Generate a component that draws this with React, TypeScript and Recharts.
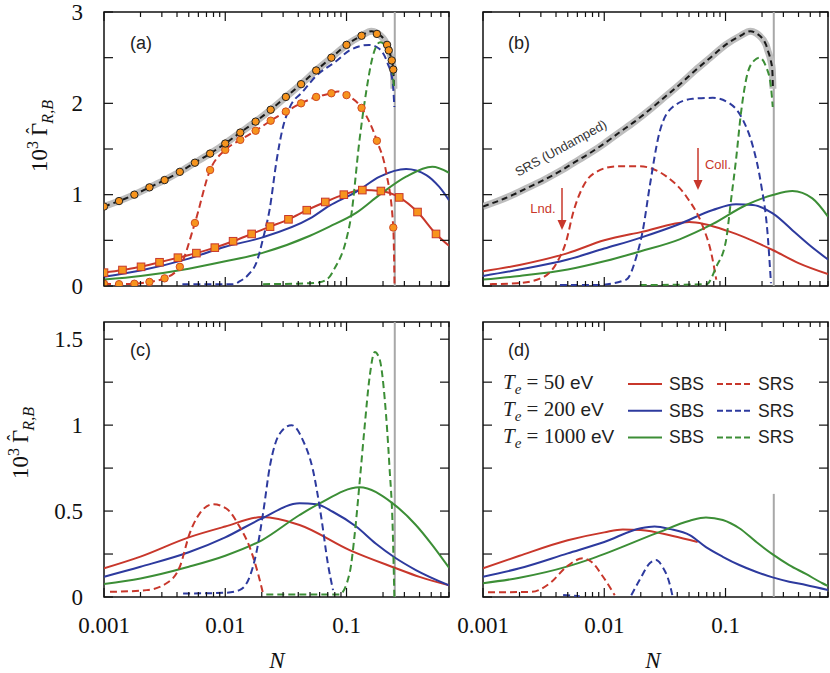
import React from 'react';
import { LineChart, Line, XAxis, YAxis, ReferenceLine, ReferenceArea } from 'recharts';

type Pt = [number, number];

// axis ticks
const xTicks = [
  0.001, 0.002, 0.003, 0.004, 0.005, 0.006, 0.007, 0.008, 0.009,
  0.01, 0.02, 0.03, 0.04, 0.05, 0.06, 0.07, 0.08, 0.09,
  0.1, 0.2, 0.3, 0.4, 0.5, 0.6, 0.7,
];
const xLabels = [0.001, 0.01, 0.1];
const yTicksTop = [0, 0.5, 1, 1.5, 2, 2.5, 3];
const yLabelsTop = [0, 1, 2, 3];
const yTicksBottom = [0, 0.25, 0.5, 0.75, 1, 1.25, 1.5];
const yLabelsBottom = [0, 0.5, 1, 1.5];
const nLimit = 0.25;

// undamped SRS, panels (a) and (b)
const undamped: Pt[] = [
  [0.001, 0.87], [0.00133, 0.93], [0.00178, 1.0], [0.00237, 1.08], [0.00316, 1.16],
  [0.00422, 1.25], [0.00562, 1.35], [0.0075, 1.45], [0.01, 1.56], [0.0133, 1.68],
  [0.0178, 1.8], [0.0237, 1.93], [0.0316, 2.07], [0.0422, 2.21], [0.0562, 2.36],
  [0.075, 2.5], [0.1, 2.64], [0.133, 2.74], [0.16, 2.79], [0.178, 2.77], [0.216, 2.64],
  [0.223, 2.58], [0.236, 2.47], [0.243, 2.37], [0.246, 2.16],
];
const undampedDots: Pt[] = [
  [0.001, 0.87], [0.00133, 0.93], [0.00178, 1.0], [0.00237, 1.08], [0.00316, 1.16],
  [0.00422, 1.25], [0.00562, 1.35], [0.0075, 1.45], [0.01, 1.56], [0.0133, 1.68],
  [0.0178, 1.8], [0.0237, 1.93], [0.0316, 2.07], [0.0422, 2.21], [0.0562, 2.36],
  [0.075, 2.5], [0.1, 2.64], [0.133, 2.74], [0.178, 2.76], [0.216, 2.64],
  [0.223, 2.58], [0.236, 2.47], [0.243, 2.37],
];

// (a)
const aSbs50: Pt[] = [
  [0.001, 0.146], [0.00142, 0.175], [0.00202, 0.21], [0.00287, 0.26], [0.00407, 0.31],
  [0.00578, 0.36], [0.0082, 0.42], [0.0116, 0.49], [0.0165, 0.57], [0.0234, 0.65],
  [0.0332, 0.73], [0.047, 0.83], [0.0668, 0.92], [0.095, 1.0], [0.135, 1.05],
  [0.192, 1.04], [0.272, 0.97], [0.385, 0.81], [0.547, 0.57], [0.7, 0.44],
];
const aSbs50Marks: Pt[] = [
  [0.001, 0.146], [0.00142, 0.175], [0.00202, 0.21], [0.00287, 0.26], [0.00407, 0.31],
  [0.00578, 0.36], [0.0082, 0.42], [0.0116, 0.49], [0.0165, 0.57], [0.0234, 0.65],
  [0.0332, 0.73], [0.047, 0.83], [0.0668, 0.92], [0.095, 1.0], [0.135, 1.05],
  [0.192, 1.04], [0.272, 0.97], [0.385, 0.81], [0.547, 0.57],
];
const aSbs200: Pt[] = [
  [0.001, 0.1], [0.002, 0.17], [0.005, 0.3], [0.01, 0.43], [0.02, 0.53], [0.05, 0.74],
  [0.0724, 0.88], [0.12, 1.03], [0.188, 1.197], [0.31, 1.28], [0.455, 1.215],
  [0.58, 1.087], [0.7, 0.94],
];
const aSbs1000: Pt[] = [
  [0.001, 0.07], [0.002, 0.11], [0.005, 0.19], [0.01, 0.27], [0.02, 0.36], [0.05, 0.55],
  [0.0724, 0.65], [0.12, 0.8], [0.188, 1.0], [0.31, 1.197], [0.51, 1.306], [0.7, 1.24],
];
const aSrs50: Pt[] = [
  [0.001, 0.025], [0.00133, 0.02], [0.00178, 0.025], [0.00237, 0.045], [0.00316, 0.084],
  [0.00422, 0.21], [0.00562, 0.69], [0.0075, 1.27], [0.01, 1.49], [0.0133, 1.6],
  [0.0178, 1.7], [0.0237, 1.81], [0.0316, 1.91], [0.0422, 2.0], [0.0562, 2.07],
  [0.075, 2.11], [0.085, 2.13], [0.1, 2.09], [0.133, 1.95], [0.178, 1.59], [0.212, 1.25],
  [0.243, 0.64], [0.249, 0],
];
const aSrs50Dots: Pt[] = [
  [0.001, 0.025], [0.00133, 0.02], [0.00178, 0.025], [0.00237, 0.045], [0.00316, 0.084],
  [0.00422, 0.21], [0.00562, 0.69], [0.0075, 1.27], [0.01, 1.49], [0.0133, 1.6],
  [0.0178, 1.7], [0.0237, 1.81], [0.0316, 1.91], [0.0422, 2.0], [0.0562, 2.07],
  [0.075, 2.11], [0.1, 2.09], [0.133, 1.95], [0.178, 1.59], [0.243, 0.64],
];
const aSrs200: Pt[] = [
  [0.00443, 0.02], [0.0116, 0.02], [0.0131, 0.05], [0.0159, 0.14], [0.018, 0.25],
  [0.0205, 0.52], [0.0233, 0.85], [0.0264, 1.36], [0.0298, 1.73], [0.0339, 1.95],
  [0.0437, 2.13], [0.0561, 2.3], [0.082, 2.46], [0.106, 2.58], [0.154, 2.64],
  [0.185, 2.6], [0.218, 2.44], [0.24, 2.24], [0.248, 1.96],
];
const aSrs1000: Pt[] = [
  [0.0205, 0.02], [0.05, 0.03], [0.06, 0.04], [0.0724, 0.1], [0.0795, 0.19], [0.0992, 0.5],
  [0.109, 0.76], [0.128, 1.6], [0.145, 2.12], [0.165, 2.52], [0.19, 2.67], [0.218, 2.58],
  [0.238, 2.38], [0.246, 2.18],
];

// (b)
const bSbs50: Pt[] = [
  [0.001, 0.16], [0.002, 0.23], [0.005, 0.36], [0.01, 0.5], [0.02, 0.59], [0.05, 0.7],
  [0.108, 0.595], [0.245, 0.394], [0.4, 0.25], [0.7, 0.13],
];
const bSbs200: Pt[] = [
  [0.001, 0.11], [0.002, 0.18], [0.005, 0.29], [0.01, 0.41], [0.02, 0.53], [0.0418, 0.679],
  [0.0786, 0.832], [0.122, 0.894], [0.168, 0.887], [0.245, 0.796], [0.38, 0.577],
  [0.5, 0.44], [0.7, 0.29],
];
const bSbs1000: Pt[] = [
  [0.001, 0.07], [0.002, 0.11], [0.005, 0.18], [0.01, 0.27], [0.02, 0.38], [0.0418, 0.511],
  [0.0786, 0.679], [0.148, 0.887], [0.245, 0.996], [0.356, 1.04], [0.52, 0.96], [0.7, 0.76],
];
const bSrs50: Pt[] = [
  [0.00114, 0.02], [0.0019, 0.03], [0.00295, 0.08], [0.00404, 0.25], [0.00488, 0.5],
  [0.00553, 0.8], [0.00669, 1.09], [0.00862, 1.25], [0.0126, 1.31], [0.0196, 1.31],
  [0.0325, 1.2], [0.0475, 0.98], [0.0651, 0.65], [0.0763, 0.36], [0.0839, 0.07],
];
const bSrs200: Pt[] = [
  [0.00431, 0.01], [0.00862, 0.01], [0.0152, 0.07], [0.0184, 0.32], [0.0208, 0.61],
  [0.0237, 1.09], [0.0284, 1.67], [0.0367, 1.96], [0.0536, 2.05], [0.0786, 2.06],
  [0.108, 2.0], [0.139, 1.82], [0.168, 1.53], [0.196, 1.12], [0.222, 0.58], [0.237, 0.03],
];
const bSrs1000: Pt[] = [
  [0.0196, 0.01], [0.0696, 0.02], [0.0839, 0.21], [0.101, 0.5], [0.111, 0.94],
  [0.122, 1.38], [0.134, 1.89], [0.152, 2.33], [0.173, 2.47], [0.19, 2.5], [0.216, 2.4],
  [0.237, 2.18], [0.245, 1.96],
];

// (c)
const cSbs50: Pt[] = [
  [0.001, 0.167], [0.002, 0.235], [0.005, 0.347], [0.01, 0.41], [0.02, 0.465], [0.041, 0.419],
  [0.106, 0.273], [0.25, 0.17], [0.4, 0.117], [0.7, 0.068],
];
const cSbs200: Pt[] = [
  [0.001, 0.118], [0.002, 0.176], [0.005, 0.26], [0.01, 0.347], [0.02, 0.457], [0.041, 0.545],
  [0.0566, 0.54], [0.077, 0.496], [0.12, 0.41], [0.175, 0.31], [0.25, 0.23], [0.373, 0.157],
  [0.7, 0.068],
];
const cSbs1000: Pt[] = [
  [0.001, 0.076], [0.002, 0.108], [0.005, 0.176], [0.01, 0.24], [0.02, 0.33], [0.041, 0.477],
  [0.06, 0.545], [0.128, 0.638], [0.24, 0.545], [0.373, 0.419], [0.51, 0.302], [0.7, 0.17],
];
const cSrs50: Pt[] = [
  [0.00112, 0.03], [0.00224, 0.04], [0.00328, 0.08], [0.00422, 0.176], [0.00509, 0.37],
  [0.00616, 0.487], [0.00793, 0.54], [0.0102, 0.515], [0.0131, 0.41], [0.0159, 0.29],
  [0.0186, 0.138], [0.0205, 0.02],
];
const cSrs200: Pt[] = [
  [0.00449, 0.02], [0.0102, 0.025], [0.0131, 0.04], [0.0159, 0.118], [0.018, 0.254],
  [0.0205, 0.487], [0.0233, 0.758], [0.0281, 0.95], [0.0352, 1.0], [0.0438, 0.91],
  [0.0528, 0.74], [0.0618, 0.467], [0.0701, 0.196], [0.0774, 0.04],
];
const cSrs1000: Pt[] = [
  [0.0218, 0.015], [0.0874, 0.015], [0.106, 0.138], [0.117, 0.37], [0.128, 0.66],
  [0.141, 0.99], [0.155, 1.28], [0.171, 1.426], [0.188, 1.38], [0.207, 1.145],
  [0.226, 0.758], [0.241, 0.37], [0.248, 0],
];

// (d)
const dSbs50: Pt[] = [
  [0.001, 0.167], [0.002, 0.24], [0.005, 0.33], [0.01, 0.376], [0.0142, 0.393], [0.02, 0.39],
  [0.0368, 0.355], [0.0589, 0.32],
];
const dSbs200: Pt[] = [
  [0.001, 0.118], [0.002, 0.167], [0.005, 0.254], [0.01, 0.32], [0.02, 0.4], [0.026, 0.41],
  [0.035, 0.395], [0.0507, 0.36], [0.069, 0.29], [0.095, 0.234], [0.13, 0.186],
  [0.178, 0.147], [0.245, 0.114], [0.335, 0.089], [0.46, 0.07], [0.7, 0.041],
];
const dSbs1000: Pt[] = [
  [0.001, 0.08], [0.002, 0.112], [0.005, 0.178], [0.008, 0.225], [0.0267, 0.37], [0.0507, 0.444],
  [0.069, 0.463], [0.095, 0.448], [0.13, 0.4], [0.178, 0.322], [0.245, 0.248], [0.335, 0.186],
  [0.46, 0.134], [0.63, 0.08], [0.7, 0.064],
];
const dSrs50: Pt[] = [
  [0.0011, 0.027], [0.0025, 0.03], [0.00356, 0.08], [0.00489, 0.176], [0.00665, 0.225],
  [0.00782, 0.205], [0.00977, 0.118], [0.0122, 0.01],
];
const dSrs200Low: Pt[] = [[0.00458, 0.012], [0.00628, 0.005]];
const dSrs200: Pt[] = [
  [0.0167, 0.01], [0.0196, 0.1], [0.0237, 0.196], [0.0267, 0.215], [0.0302, 0.176],
  [0.0345, 0.08], [0.0367, 0],
];

const RED = '#c8372b';
const BLUE = '#2d3a9e';
const GREEN = '#3c8e36';
const ORANGE = '#f7941d';
const GRAY = '#bdbdbd';
const DASH = '7 4';

const PW = 345;
const ML = 70, MR = 2, MT = 12, MB = 45;
const serif = 'Liberation Serif';
const sans = 'Liberation Sans';

const rows = (pts: Pt[]) => pts.map(([n, g]) => ({ n, g }));

interface Series {
  id: string;
  pts: Pt[];
  stroke: string;
  width?: number;
  dash?: string;
  dot?: any;
}

const square = (fill: string, stroke: string) => (p: any) => (
  <rect key={`sq-${p.index}`} x={p.cx - 3.8} y={p.cy - 3.8} width={7.6} height={7.6}
    fill={fill} stroke={stroke} strokeWidth={1} />
);

// bottom axis: y is the plot's bottom edge; draws matching ticks on the top edge too
const xTick = (h: number, show: boolean) => (p: any) => {
  const { x, y, payload } = p;
  const major = xLabels.includes(payload.value);
  const len = major ? 9 : 5;
  return (
    <g>
      <line x1={x} y1={y} x2={x} y2={y - len} stroke="#111" strokeWidth={1.2} />
      <line x1={x} y1={y - h} x2={x} y2={y - h + len} stroke="#111" strokeWidth={1.2} />
      {show && major && (
        <text x={x} y={y + 36} textAnchor="middle" fontFamily={serif} fontSize={23} fill="#111">
          {payload.value}
        </text>
      )}
    </g>
  );
};

// left axis: x is the plot's left edge; mirrors ticks onto the right edge
const yTick = (labels: number[], show: boolean) => (p: any) => {
  const { x, y, payload } = p;
  return (
    <g>
      <line x1={x} y1={y} x2={x + 9} y2={y} stroke="#111" strokeWidth={1.2} />
      <line x1={x + PW} y1={y} x2={x + PW - 9} y2={y} stroke="#111" strokeWidth={1.2} />
      {show && labels.includes(payload.value) && (
        <text x={x - 21} y={y + 7.5} textAnchor="end" fontFamily={serif} fontSize={23} fill="#111">
          {payload.value}
        </text>
      )}
    </g>
  );
};

interface PanelProps {
  left: number;
  top: number;
  h: number;
  yMax: number;
  yTicks: number[];
  yLabels: number[];
  showX: boolean;
  showY: boolean;
  limitTop?: number;
  series: Series[];
}

function Panel({ left, top, h, yMax, yTicks, yLabels, showX, showY, limitTop, series }: PanelProps) {
  return (
    <div style={{ position: 'absolute', left: left - ML, top: top - MT }}>
      <LineChart width={PW + ML + MR} height={h + MT + MB}
        margin={{ left: ML - 1, right: MR, top: MT, bottom: MB - 1 }}>
        <XAxis type="number" dataKey="n" scale="log" domain={[0.001, 0.7]} allowDataOverflow
          ticks={xTicks} interval={0} height={1} tickSize={0} tickMargin={0}
          axisLine={false} tickLine={false} tick={xTick(h, showX)} />
        <YAxis type="number" dataKey="g" domain={[0, yMax]} allowDataOverflow
          ticks={yTicks} interval={0} width={1} tickSize={0} tickMargin={0}
          axisLine={false} tickLine={false} tick={yTick(yLabels, showY)} />
        {limitTop === undefined ? (
          <ReferenceLine x={nLimit} stroke="#a8a8a8" strokeWidth={2} />
        ) : (
          <ReferenceLine segment={[{ x: nLimit, y: 0 }, { x: nLimit, y: limitTop }]}
            stroke="#a8a8a8" strokeWidth={2} />
        )}
        {series.map((s) => (
          <Line key={s.id} data={rows(s.pts)} dataKey="g" type="monotone"
            stroke={s.stroke} strokeWidth={s.width ?? 2} strokeDasharray={s.dash}
            dot={s.dot ?? false} activeDot={false} isAnimationActive={false} />
        ))}
        <ReferenceArea x1={0.001} x2={0.7} y1={0} y2={yMax} fill="none"
          stroke="#111" strokeWidth={1.5} />
      </LineChart>
    </div>
  );
}

const circleDot = (stroke: string) => ({ r: 3.7, fill: ORANGE, stroke, strokeWidth: 1 });

const seriesA: Series[] = [
  { id: 'ug', pts: undamped, stroke: GRAY, width: 7 },
  { id: 'ub', pts: undamped, stroke: '#1a1a1a', dash: '6 4' },
  { id: 'r', pts: aSbs50, stroke: RED },
  { id: 'b', pts: aSbs200, stroke: BLUE },
  { id: 'g', pts: aSbs1000, stroke: GREEN },
  { id: 'rd', pts: aSrs50, stroke: RED, dash: DASH },
  { id: 'bd', pts: aSrs200, stroke: BLUE, dash: DASH },
  { id: 'gd', pts: aSrs1000, stroke: GREEN, dash: DASH },
  { id: 'rm', pts: aSbs50Marks, stroke: 'none', dot: square(ORANGE, '#c8372b') },
  { id: 'rdm', pts: aSrs50Dots, stroke: 'none', dot: circleDot('#d04a22') },
  { id: 'um', pts: undampedDots, stroke: 'none', dot: circleDot('#222') },
];

const seriesB: Series[] = [
  { id: 'ug', pts: undamped, stroke: GRAY, width: 7 },
  { id: 'ub', pts: undamped, stroke: '#1a1a1a', dash: '6 4' },
  { id: 'r', pts: bSbs50, stroke: RED },
  { id: 'b', pts: bSbs200, stroke: BLUE },
  { id: 'g', pts: bSbs1000, stroke: GREEN },
  { id: 'rd', pts: bSrs50, stroke: RED, dash: DASH },
  { id: 'bd', pts: bSrs200, stroke: BLUE, dash: DASH },
  { id: 'gd', pts: bSrs1000, stroke: GREEN, dash: DASH },
];

const seriesC: Series[] = [
  { id: 'r', pts: cSbs50, stroke: RED },
  { id: 'b', pts: cSbs200, stroke: BLUE },
  { id: 'g', pts: cSbs1000, stroke: GREEN },
  { id: 'rd', pts: cSrs50, stroke: RED, dash: DASH },
  { id: 'bd', pts: cSrs200, stroke: BLUE, dash: DASH },
  { id: 'gd', pts: cSrs1000, stroke: GREEN, dash: DASH },
];

const seriesD: Series[] = [
  { id: 'r', pts: dSbs50, stroke: RED },
  { id: 'b', pts: dSbs200, stroke: BLUE },
  { id: 'g', pts: dSbs1000, stroke: GREEN },
  { id: 'rd', pts: dSrs50, stroke: RED, dash: DASH },
  { id: 'bdl', pts: dSrs200Low, stroke: BLUE, dash: DASH },
  { id: 'bd', pts: dSrs200, stroke: BLUE, dash: DASH },
];

const legendRows = [
  { temp: '50', color: RED },
  { temp: '200', color: BLUE },
  { temp: '1000', color: GREEN },
];

function YLabel({ x, y }: { x: number; y: number }) {
  return (
    <text transform={`translate(${x},${y}) rotate(-90)`} textAnchor="middle"
      fontFamily={serif} fontSize={23} fill="#111">
      <tspan>10</tspan>
      <tspan fontSize={16} dy={-9}>3</tspan>
      <tspan dy={9} dx={5}>Γ</tspan>
      <tspan fontSize={18} dx={-11} dy={-8}>ˆ</tspan>
      <tspan fontSize={16} fontStyle="italic" dx={4} dy={14}>R,B</tspan>
    </text>
  );
}

function Overlay() {
  return (
    <svg width={830} height={673} style={{ position: 'absolute', left: 0, top: 0, pointerEvents: 'none' }}>
      <g fontFamily={sans} fontSize={18} fill="#222">
        <text x={130} y={49}>(a)</text>
        <text x={508} y={49}>(b)</text>
        <text x={130} y={356}>(c)</text>
        <text x={508} y={356}>(d)</text>
      </g>
      <YLabel x={47} y={136} />
      <YLabel x={28} y={443} />
      <text x={277} y={668} textAnchor="middle" fontFamily={serif} fontStyle="italic" fontSize={23} fill="#111">N</text>
      <text x={653} y={668} textAnchor="middle" fontFamily={serif} fontStyle="italic" fontSize={23} fill="#111">N</text>

      <text transform="translate(563,152) rotate(-29)" textAnchor="middle" fontFamily={sans}
        fontSize={13} fill="#333">SRS (Undamped)</text>
      <text x={543} y={213} textAnchor="middle" fontFamily={sans} fontSize={13} fill={RED}>Lnd.</text>
      <line x1={562} y1={188} x2={562} y2={222} stroke={RED} strokeWidth={1.5} />
      <polygon points="557.5,220 566.5,220 562,230" fill={RED} />
      <text x={718} y={169} textAnchor="middle" fontFamily={sans} fontSize={13} fill={RED}>Coll.</text>
      <line x1={698} y1={148} x2={698} y2={182} stroke={RED} strokeWidth={1.5} />
      <polygon points="693.5,180 702.5,180 698,190" fill={RED} />

      {legendRows.map((r, i) => {
        const yb = 389 + i * 27;
        const yl = 384 + i * 26.7;
        return (
          <g key={r.temp}>
            <text x={503} y={yb} fontFamily={serif} fontSize={21} fill="#222">
              <tspan fontStyle="italic">T</tspan>
              <tspan fontStyle="italic" fontSize={15} dy={5}>e</tspan>
              <tspan dy={-5}> = {r.temp} </tspan>
              <tspan fontFamily={sans} fontSize={19}>eV</tspan>
            </text>
            <line x1={628} y1={yl} x2={662} y2={yl} stroke={r.color} strokeWidth={2} />
            <text x={669} y={yl + 6} fontFamily={sans} fontSize={17.5} fill="#222">SBS</text>
            <line x1={717} y1={yl} x2={750} y2={yl} stroke={r.color} strokeWidth={2} strokeDasharray="6 3" />
            <text x={758} y={yl + 6} fontFamily={sans} fontSize={17.5} fill="#222">SRS</text>
          </g>
        );
      })}
    </svg>
  );
}

export default function App() {
  return (
    <div style={{ position: 'absolute', left: 0, top: 0, width: 830, height: 673, background: '#fff' }}>
      <Panel left={104} top={12} h={274} yMax={3} yTicks={yTicksTop} yLabels={yLabelsTop}
        showX={false} showY={true} series={seriesA} />
      <Panel left={483} top={12} h={274} yMax={3} yTicks={yTicksTop} yLabels={yLabelsTop}
        showX={false} showY={false} series={seriesB} />
      <Panel left={104} top={322} h={275} yMax={1.6} yTicks={yTicksBottom} yLabels={yLabelsBottom}
        showX={true} showY={true} series={seriesC} />
      <Panel left={483} top={322} h={275} yMax={1.6} yTicks={yTicksBottom} yLabels={yLabelsBottom}
        showX={true} showY={false} limitTop={0.6} series={seriesD} />
      <Overlay />
    </div>
  );
}
